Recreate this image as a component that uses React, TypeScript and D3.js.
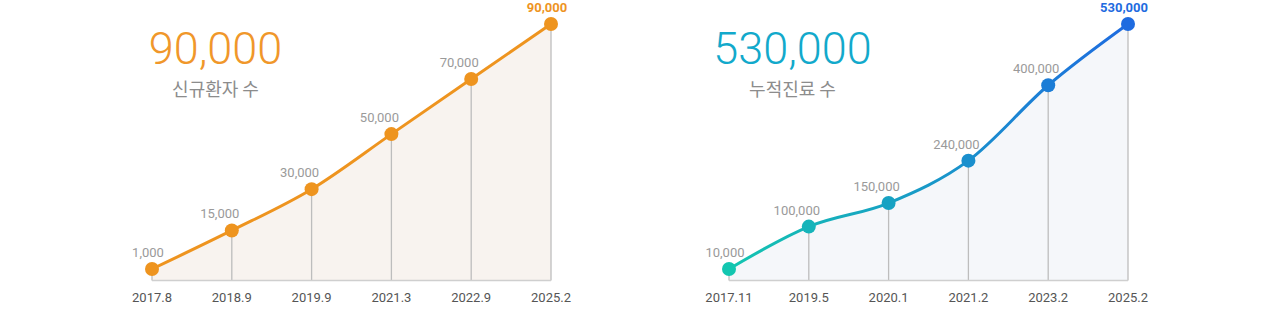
import React from "react";
import * as d3 from "d3";

const newPatientDates = ["2017.8", "2018.9", "2019.9", "2021.3", "2022.9", "2025.2"];
const newPatientValues = [1000, 15000, 30000, 50000, 70000, 90000];

const treatmentDates = ["2017.11", "2019.5", "2020.1", "2021.2", "2023.2", "2025.2"];
const treatmentValues = [10000, 100000, 150000, 240000, 400000, 530000];

const W = 1280;
const H = 309;
const fmt = d3.format(",");

type ChartProps = {
  id: string;
  left: number;
  dates: string[];
  values: number[];
  title: string;
  colorStart: string;
  colorEnd: string;
  bigColor: string;
  fill: string;
};

function Chart({ id, left, dates, values, title, colorStart, colorEnd, bigColor, fill }: ChartProps) {
  const width = 399;
  const axisY = 280.5;
  const x = d3.scalePoint<string>().domain(dates).range([left, left + width]);
  const y = d3
    .scaleLinear()
    .domain([d3.min(values) as number, d3.max(values) as number])
    .range([269, 24]);
  const pts = dates.map((d, i) => ({ d, v: values[i], x: x(d) as number, y: y(values[i]) }));
  const line = d3
    .line<(typeof pts)[number]>()
    .x((p) => p.x)
    .y((p) => p.y)
    .curve(d3.curveMonotoneX);
  const area = d3
    .area<(typeof pts)[number]>()
    .x((p) => p.x)
    .y0(axisY)
    .y1((p) => p.y)
    .curve(d3.curveMonotoneX);
  const interp = d3.interpolateRgb(colorStart, colorEnd);
  const colorAt = (px: number) => interp((px - left) / width);
  const n = pts.length;
  const cx = left + 63.5;

  return (
    <g>
      <defs>
        <linearGradient id={id} gradientUnits="userSpaceOnUse" x1={left} y1={0} x2={left + width} y2={0}>
          <stop offset="0%" stopColor={colorStart} />
          <stop offset="100%" stopColor={colorEnd} />
        </linearGradient>
      </defs>
      <text
        x={cx}
        y={64}
        textAnchor="middle"
        fontFamily="Roboto, 'Noto Sans', sans-serif"
        fontWeight={300}
        fontSize={45}
        fill={bigColor}
      >
        {fmt(d3.max(values) as number)}
      </text>
      <text
        x={cx}
        y={96}
        textAnchor="middle"
        fontFamily="'Noto Sans CJK KR', sans-serif"
        fontSize={18}
        fill="#8c8c8c"
      >
        {title}
      </text>
      <path d={area(pts) || ""} fill={fill} />
      {pts.map((p, i) => (
        <line key={"v" + i} x1={p.x} x2={p.x} y1={p.y} y2={axisY} stroke="#bdbdbd" strokeWidth={1.3} />
      ))}
      <line x1={left} x2={left + width} y1={axisY} y2={axisY} stroke="#cfcfcf" strokeWidth={1.5} />
      <path d={line(pts) || ""} fill="none" stroke={`url(#${id})`} strokeWidth={3} />
      {pts.map((p, i) => (
        <circle key={"c" + i} cx={p.x} cy={p.y} r={7} fill={colorAt(p.x)} />
      ))}
      {pts.map((p, i) => {
        const last = i === n - 1;
        const edge = i === 0 || last;
        return (
          <text
            key={"l" + i}
            x={p.x + (edge ? -4 : -12)}
            y={p.y - 12}
            textAnchor="middle"
            fontFamily="Roboto, 'Noto Sans', sans-serif"
            fontSize={13}
            fontWeight={last ? 700 : 400}
            fill={last ? colorEnd : "#9a9a9a"}
          >
            {fmt(p.v)}
          </text>
        );
      })}
      {pts.map((p, i) => (
        <text
          key={"t" + i}
          x={p.x}
          y={302}
          textAnchor="middle"
          fontFamily="Roboto, 'Noto Sans', sans-serif"
          fontSize={13}
          fill="#555"
        >
          {p.d}
        </text>
      ))}
    </g>
  );
}

export default function App() {
  return (
    <svg
      width={W}
      height={H}
      style={{ position: "absolute", left: 0, top: 0, background: "#fff" }}
    >
      <Chart
        id="gradOrange"
        left={152}
        dates={newPatientDates}
        values={newPatientValues}
        title="신규환자 수"
        colorStart="#ee941f"
        colorEnd="#ee941f"
        bigColor="#f0972a"
        fill="#f8f3ef"
      />
      <Chart
        id="gradBlue"
        left={729}
        dates={treatmentDates}
        values={treatmentValues}
        title="누적진료 수"
        colorStart="#13c6b0"
        colorEnd="#1e6be0"
        bigColor="#12a9cb"
        fill="#f5f7fa"
      />
    </svg>
  );
}
